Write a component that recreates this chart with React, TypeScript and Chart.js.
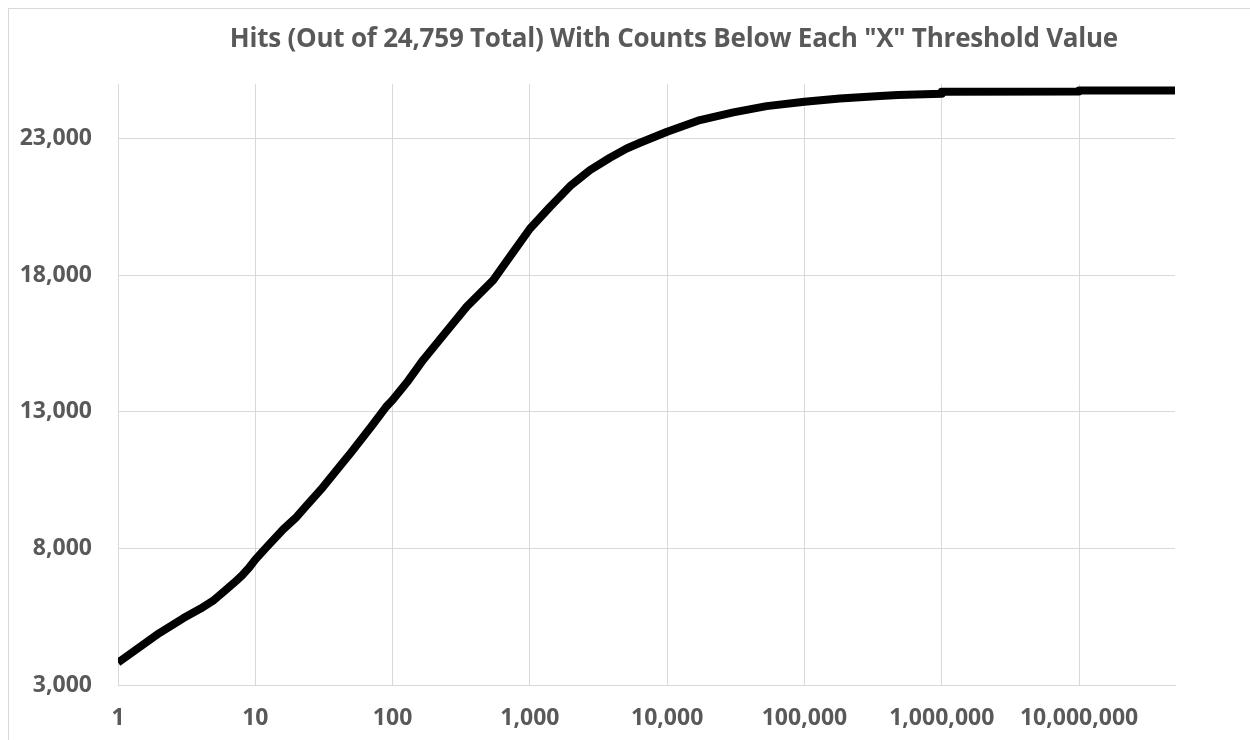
import React, { useEffect, useRef } from "react";
import { Chart, registerables } from "chart.js";

Chart.register(...registerables);

const TITLE = 'Hits (Out of 24,759 Total) With Counts Below Each "X" Threshold Value';

// Threshold values ("X") and cumulative hits below each threshold
const thresholds = [
  1, 2, 3, 4, 5, 6, 7, 8, 9, 10, 12, 16, 20, 23, 30, 41, 50, 70, 90, 100, 130, 167, 250, 347,
  541, 716, 1000, 1400, 2000, 2740, 3830, 5070, 6340, 10000, 17340, 30340, 53000, 100000,
  181000, 355000, 480000, 999000, 1000000, 9990000, 10000000, 50000000,
];
const hits = [
  3820, 4900, 5450, 5800, 6110, 6450, 6740, 7010, 7290, 7590, 8030, 8700, 9150, 9500, 10150,
  10990, 11520, 12460, 13190, 13430, 14140, 14900, 15980, 16850, 17820, 18680, 19700, 20500,
  21300, 21850, 22300, 22640, 22850, 23250, 23680, 23960, 24190, 24350, 24470, 24560, 24600,
  24640, 24715, 24730, 24759, 24759,
];

const xTickValues = [1, 10, 100, 1000, 10000, 100000, 1000000, 10000000];
const yTickValues = [3000, 8000, 13000, 18000, 23000];
const X_MIN = 1;
const X_MAX = 50000000;
const Y_MIN = 3000;
const Y_MAX = 25000;

const FONT = '"Open Sans", "Lato", sans-serif';
const TEXT_COLOR = "#595959";
const GRID_COLOR = "#d9d9d9";

const titlePlugin = {
  id: "customTitle",
  afterDraw(chart: any) {
    const ctx = chart.ctx;
    ctx.save();
    const size = 26;
    ctx.font = `700 ${size}px ${FONT}`;
    const w = ctx.measureText(TITLE).width;
    const spacing = (888 - w) / TITLE.length;
    try {
      (ctx as any).letterSpacing = `${spacing.toFixed(2)}px`;
    } catch (e) {
      /* ignore */
    }
    ctx.fillStyle = TEXT_COLOR;
    ctx.textAlign = "center";
    ctx.textBaseline = "alphabetic";
    ctx.fillText(TITLE, 674 + spacing / 2, 46.5);
    ctx.restore();
  },
};

export default function App() {
  const canvasRef = useRef<HTMLCanvasElement | null>(null);

  useEffect(() => {
    if (!canvasRef.current) return;
    const points = thresholds.map((x, i) => ({ x, y: hits[i] }));
    const chart = new Chart(canvasRef.current, {
      type: "line",
      data: {
        datasets: [
          {
            data: points,
            borderColor: "#000000",
            borderWidth: 8,
            pointRadius: 0,
            tension: 0,
            borderJoinStyle: "round",
            borderCapStyle: "butt",
            clip: 0,
          } as any,
        ],
      },
      options: {
        responsive: false,
        animation: false,
        maintainAspectRatio: false,
        layout: { padding: { left: 0, top: 84, right: 75, bottom: 0 } },
        plugins: {
          legend: { display: false },
          tooltip: { enabled: false },
          title: { display: false },
        },
        scales: {
          x: {
            type: "logarithmic",
            min: X_MIN,
            max: X_MAX,
            afterBuildTicks: (scale: any) => {
              scale.ticks = xTickValues.map((v) => ({ value: v }));
            },
            afterFit: (scale: any) => {
              scale.height = 55;
            },
            grid: { color: GRID_COLOR, lineWidth: 1, drawTicks: false },
            border: { color: GRID_COLOR, width: 1 },
            ticks: {
              autoSkip: false,
              maxRotation: 0,
              padding: 20,
              color: TEXT_COLOR,
              font: { family: FONT, size: 23, weight: "bold" },
              callback: (v: any) => Number(v).toLocaleString("en-US"),
            },
          },
          y: {
            type: "linear",
            min: Y_MIN,
            max: Y_MAX,
            afterBuildTicks: (scale: any) => {
              scale.ticks = yTickValues.map((v) => ({ value: v }));
            },
            afterFit: (scale: any) => {
              scale.width = 118;
            },
            grid: { color: GRID_COLOR, lineWidth: 1, drawTicks: false },
            border: { color: GRID_COLOR, width: 1 },
            ticks: {
              padding: 26,
              color: TEXT_COLOR,
              font: { family: FONT, size: 23, weight: "bold" },
              callback: (v: any) => Number(v).toLocaleString("en-US"),
            },
          },
        },
      } as any,
      plugins: [titlePlugin],
    });
    return () => chart.destroy();
  }, []);

  return (
    <div
      style={{
        position: "fixed",
        left: 0,
        top: 0,
        width: 1250,
        height: 740,
        background: "#ffffff",
        overflow: "hidden",
      }}
    >
      <div
        style={{
          position: "absolute",
          left: 8,
          top: 8,
          width: 1300,
          height: 800,
          borderLeft: `1px solid ${GRID_COLOR}`,
          borderTop: `1px solid ${GRID_COLOR}`,
        }}
      />
      <canvas
        ref={canvasRef}
        width={1250}
        height={740}
        style={{ position: "absolute", left: 0, top: 0, width: 1250, height: 740 }}
      />
    </div>
  );
}
